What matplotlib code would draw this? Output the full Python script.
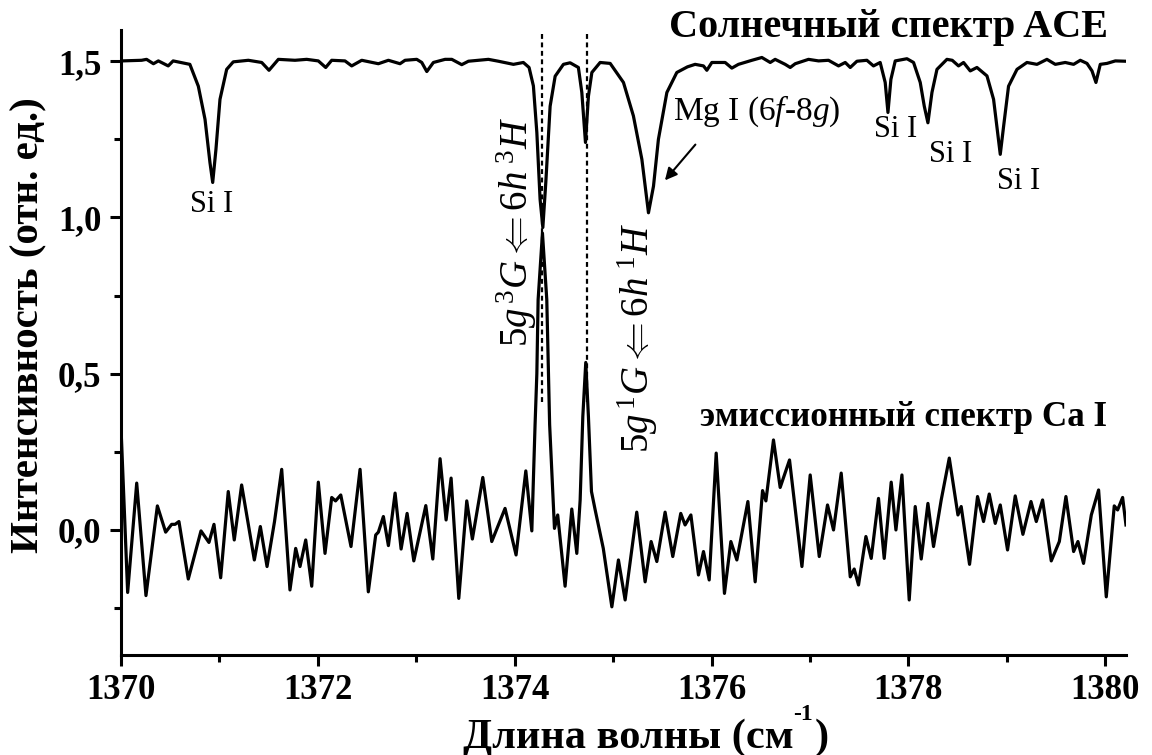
import matplotlib
matplotlib.use("Agg")
import matplotlib.pyplot as plt
from matplotlib.ticker import MultipleLocator, FuncFormatter

plt.rcParams['font.family'] = ['Liberation Serif', 'DejaVu Serif']
plt.rcParams['mathtext.fontset'] = 'custom'
plt.rcParams['mathtext.rm'] = 'Liberation Serif'
plt.rcParams['mathtext.it'] = 'Liberation Serif:italic'
plt.rcParams['mathtext.bf'] = 'Liberation Serif:bold'

# solar spectrum (ACE)
sun_x = [1370.007, 1370.21, 1370.26, 1370.33, 1370.38, 1370.48, 1370.53, 1370.67,
         1370.70, 1370.786, 1370.854, 1370.904, 1370.932, 1370.965, 1371.006, 1371.074,
         1371.141, 1371.294, 1371.43, 1371.504, 1371.599, 1371.768, 1371.887, 1372.005,
         1372.08, 1372.141, 1372.276, 1372.344, 1372.446, 1372.615, 1372.717, 1372.835,
         1372.886, 1373.005, 1373.056, 1373.107, 1373.174, 1373.293, 1373.361, 1373.462,
         1373.53, 1373.733, 1373.834, 1373.987, 1374.088, 1374.146, 1374.19, 1374.225,
         1374.258, 1374.286, 1374.316, 1374.36, 1374.411, 1374.495, 1374.563, 1374.647,
         1374.682, 1374.719, 1374.749, 1374.784, 1374.868, 1374.97, 1375.105, 1375.206,
         1375.292, 1375.359, 1375.41, 1375.46, 1375.546, 1375.647, 1375.755, 1375.833,
         1375.918, 1375.952, 1376.003, 1376.138, 1376.206, 1376.273, 1376.41, 1376.511,
         1376.596, 1376.646, 1376.748, 1376.799, 1376.85, 1376.985, 1377.087, 1377.188,
         1377.29, 1377.358, 1377.409, 1377.477, 1377.578, 1377.645, 1377.713, 1377.764,
         1377.792, 1377.822, 1377.866, 1377.985, 1378.052, 1378.12, 1378.161, 1378.198,
         1378.239, 1378.29, 1378.391, 1378.445, 1378.509, 1378.56, 1378.628, 1378.696,
         1378.798, 1378.865, 1378.906, 1378.933, 1378.967, 1379.017, 1379.103, 1379.204,
         1379.306, 1379.407, 1379.492, 1379.593, 1379.678, 1379.746, 1379.814, 1379.865,
         1379.905, 1379.949, 1380.017, 1380.102, 1380.203]
sun_y = [1.501, 1.503, 1.506, 1.492, 1.501, 1.485, 1.501, 1.492,
         1.49, 1.42, 1.314, 1.176, 1.112, 1.218, 1.378, 1.474,
         1.498, 1.503, 1.496, 1.471, 1.506, 1.503, 1.506, 1.501,
         1.48, 1.503, 1.501, 1.485, 1.503, 1.492, 1.503, 1.492,
         1.503, 1.506, 1.496, 1.467, 1.496, 1.506, 1.506, 1.489,
         1.5, 1.506, 1.5, 1.49, 1.496, 1.48, 1.421, 1.272,
         1.058, 0.968, 1.112, 1.356, 1.452, 1.49, 1.495, 1.48,
         1.4, 1.24, 1.388, 1.464, 1.496, 1.493, 1.432, 1.325,
         1.186, 1.015, 1.1, 1.25, 1.4, 1.464, 1.482, 1.49,
         1.485, 1.471, 1.496, 1.496, 1.478, 1.49, 1.503, 1.512,
         1.496, 1.506, 1.49, 1.48, 1.492, 1.506, 1.501, 1.503,
         1.485, 1.496, 1.48, 1.5, 1.503, 1.485, 1.496, 1.432,
         1.336, 1.442, 1.501, 1.508, 1.496, 1.432, 1.356, 1.303,
         1.4, 1.474, 1.506, 1.503, 1.485, 1.496, 1.469, 1.48,
         1.453, 1.378, 1.272, 1.202, 1.292, 1.42, 1.474, 1.496,
         1.49, 1.506, 1.49, 1.496, 1.49, 1.503, 1.493, 1.469,
         1.432, 1.49, 1.493, 1.501, 1.5]

# Ca I emission spectrum
ca_x = [1370.0, 1370.068, 1370.16, 1370.254, 1370.37, 1370.454, 1370.515, 1370.55,
        1370.589, 1370.684, 1370.813, 1370.894, 1370.945, 1371.013, 1371.09, 1371.151,
        1371.226, 1371.355, 1371.416, 1371.484, 1371.56, 1371.633, 1371.717, 1371.775,
        1371.819, 1371.877, 1371.938, 1372.005, 1372.073, 1372.141, 1372.18, 1372.233,
        1372.337, 1372.429, 1372.513, 1372.588, 1372.615, 1372.666, 1372.717, 1372.785,
        1372.846, 1372.907, 1372.975, 1373.097, 1373.168, 1373.242, 1373.303, 1373.354,
        1373.432, 1373.513, 1373.57, 1373.676, 1373.767, 1373.902, 1374.014, 1374.113,
        1374.174, 1374.207, 1374.225, 1374.238, 1374.282, 1374.326, 1374.343, 1374.355,
        1374.404, 1374.437, 1374.512, 1374.58, 1374.631, 1374.665, 1374.692, 1374.722,
        1374.749, 1374.78, 1374.817, 1374.90, 1374.987, 1375.054, 1375.122, 1375.24,
        1375.325, 1375.386, 1375.444, 1375.528, 1375.606, 1375.687, 1375.731, 1375.79,
        1375.867, 1375.918, 1375.976, 1376.047, 1376.131, 1376.196, 1376.257, 1376.369,
        1376.443, 1376.518, 1376.552, 1376.629, 1376.697, 1376.792, 1376.918, 1377.002,
        1377.094, 1377.178, 1377.239, 1377.317, 1377.409, 1377.449, 1377.493, 1377.568,
        1377.622, 1377.696, 1377.754, 1377.825, 1377.873, 1377.934, 1378.008, 1378.069,
        1378.13, 1378.198, 1378.255, 1378.333, 1378.415, 1378.503, 1378.536, 1378.621,
        1378.702, 1378.763, 1378.821, 1378.882, 1378.933, 1379.007, 1379.085, 1379.163,
        1379.245, 1379.299, 1379.363, 1379.451, 1379.533, 1379.6, 1379.678, 1379.722,
        1379.779, 1379.858, 1379.932, 1380.01, 1380.091, 1380.125, 1380.176, 1380.21]
ca_y = [0.33, -0.20, 0.15, -0.21, 0.077, -0.007, 0.018, 0.018,
        0.027, -0.157, -0.003, -0.04, 0.018, -0.153, 0.123, -0.032,
        0.144, -0.096, 0.011, -0.117, 0.027, 0.194, -0.192, -0.059,
        -0.117, -0.032, -0.18, 0.153, -0.075, 0.104, 0.093, 0.112,
        -0.053, 0.194, -0.198, -0.016, -0.007, 0.043, -0.05, 0.118,
        -0.061, 0.053, -0.099, 0.078, -0.093, 0.228, 0.032, 0.166,
        -0.219, 0.093, -0.029, 0.168, -0.037, 0.069, -0.08, 0.189,
        -0.003, 0.337, 0.5, 0.737, 0.95, 0.737, 0.5, 0.337,
        0.005, 0.048, -0.18, 0.067, -0.075, 0.096, 0.363, 0.536,
        0.363, 0.123, 0.065, -0.059, -0.246, -0.096, -0.224, 0.057,
        -0.166, -0.037, -0.101, 0.057, -0.085, 0.053, 0.016, 0.048,
        -0.144, -0.069, -0.16, 0.246, -0.203, -0.037, -0.096, 0.091,
        -0.166, 0.126, 0.093, 0.288, 0.136, 0.224, -0.117, 0.176,
        -0.085, 0.08, 0.0, 0.182, -0.15, -0.125, -0.176, -0.021,
        -0.091, 0.101, -0.091, 0.153, 0.0, 0.176, -0.224, 0.075,
        -0.093, 0.085, -0.053, 0.096, 0.23, 0.048, 0.075, -0.11,
        0.107, 0.027, 0.115, 0.021, 0.08, -0.064, 0.109, -0.014,
        0.091, 0.027, 0.096, -0.099, -0.037, 0.107, -0.069, -0.037,
        -0.107, 0.048, 0.128, -0.214, 0.077, 0.064, 0.104, 0.016]

line_pos = [1374.28, 1374.73]
si_labels = [(1370.925, 1.042), (1377.866, 1.282), (1378.425, 1.202), (1379.116, 1.115)]

fig = plt.figure(figsize=(11.52, 7.55), dpi=100)
ax = fig.add_axes([0.105, 0.1325, 0.8724, 0.8278])

ax.plot(sun_x, sun_y, color="black", lw=2.3, solid_joinstyle="round")
ax.plot(ca_x, ca_y, color="black", lw=2.3, solid_joinstyle="round")
for xp in line_pos:
    ax.plot([xp, xp], [0.41, 1.59], color="black", lw=1.6, ls=(0, (2.2, 1.6)))

ax.set_xlim(1370, 1380.21)
ax.set_ylim(-0.40, 1.60)
for s in ("top", "right"):
    ax.spines[s].set_visible(False)
for s in ("left", "bottom"):
    ax.spines[s].set_linewidth(2.2)

ax.xaxis.set_major_locator(MultipleLocator(2))
ax.xaxis.set_minor_locator(MultipleLocator(1))
ax.yaxis.set_major_locator(MultipleLocator(0.5))
ax.yaxis.set_minor_locator(MultipleLocator(0.25))
ax.yaxis.set_major_formatter(FuncFormatter(lambda v, p: f"{v:.1f}".replace(".", ",")))
ax.tick_params(which="major", length=8, width=2.2, labelsize=25, pad=6)
ax.tick_params(which="minor", length=5, width=2.2)
for lab in ax.get_xticklabels() + ax.get_yticklabels():
    lab.set_fontweight("bold")

# x label in pieces, the -1 sits high as in the original
ybase = 1 - 748 / 755
fig.text(463 / 1152, ybase, "Длина волны (см", fontsize=30.5, fontweight="bold", va="baseline")
fig.text(803 / 1152, 1 - 715 / 755, "-1", fontsize=17, fontweight="bold", ha="center", va="center")
fig.text(815 / 1152, ybase, ")", fontsize=30.5, fontweight="bold", va="baseline")

ax.set_ylabel("Интенсивность (отн. ед.)", fontsize=29.5, fontweight="bold")
ax.yaxis.set_label_coords(-0.073, 0.528)

ax.text(1380.03, 1.577, "Солнечный спектр ACE", fontsize=29, fontweight="bold",
        ha="right", va="baseline")
ax.text(1380.02, 0.333, "эмиссионный спектр Ca I", fontsize=25.3, fontweight="bold",
        ha="right", va="baseline")

for sx, sy in si_labels:
    ax.text(sx, sy, "Si I", fontsize=22, ha="center", va="center")

ax.annotate("", xy=(1375.508, 1.112), xytext=(1375.854, 1.240),
            arrowprops=dict(arrowstyle="-|>", color="black", lw=1.5, mutation_scale=18))
ax.text(1375.61, 1.34, r"Mg I (6$\mathit{f}$-8$\mathit{g}$)", fontsize=24, ha="left", va="center")

ax.text(1374.02, 0.952, r"5$g\,^3G \Leftarrow 6h\;^3H$", fontsize=28, rotation=90,
        ha="center", va="center")
ax.text(1375.25, 0.615, r"5$g\,^1G \Leftarrow 6h\;^1H$", fontsize=28, rotation=90,
        ha="center", va="center")

fig.savefig("out.png", dpi=100)
